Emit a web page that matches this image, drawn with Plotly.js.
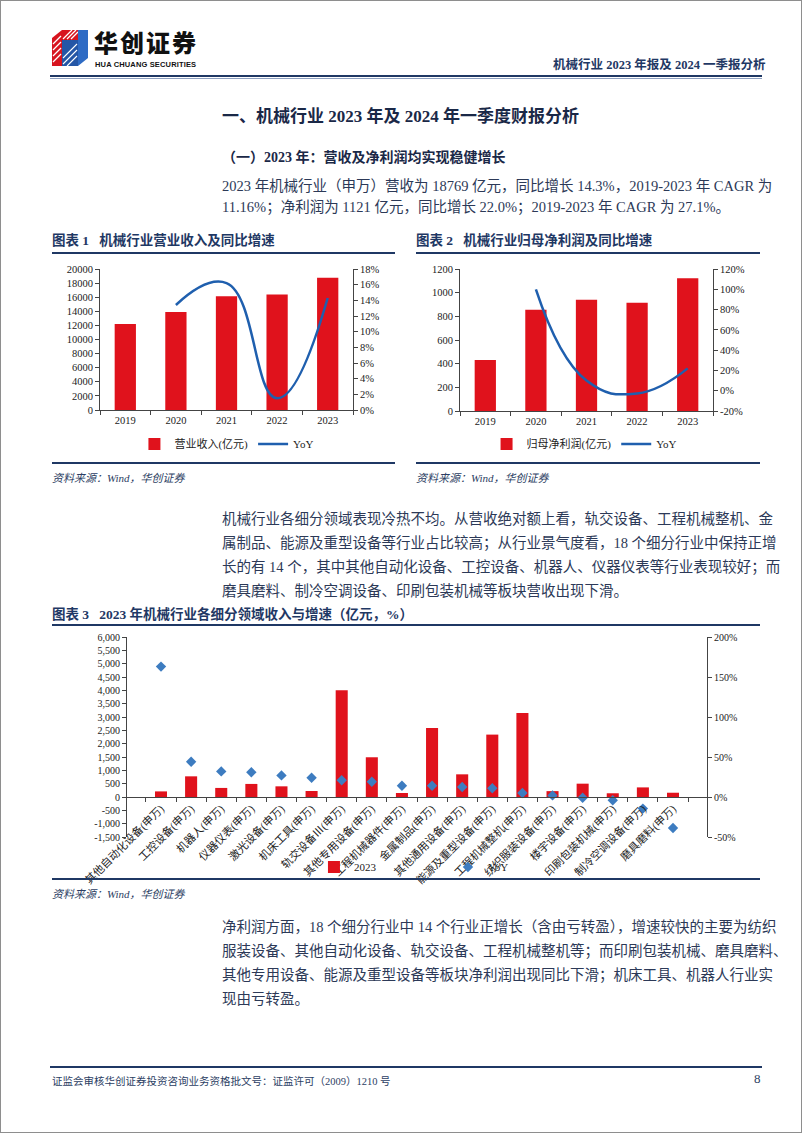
<!DOCTYPE html>
<html><head><meta charset="utf-8">
<script src="https://cdn.plot.ly/plotly-3.0.1.min.js"></script>
<style>
html,body{margin:0;padding:0}
body{width:802px;height:1133px;position:relative;background:#fff;font-family:"Liberation Serif","Noto Sans CJK SC",serif;overflow:hidden}
.frame{position:absolute;left:0;top:0;width:800px;height:1131px;border:1px solid #8e8e8e}
.abs{position:absolute;white-space:nowrap}
.line{position:absolute;height:2px;background:#1f3864}
.para{position:absolute;left:222px;width:538px;font-size:14.5px;color:#2c3957;text-align:justify;text-align-last:justify;white-space:nowrap}
.para.last{text-align-last:left}
.ctitle{position:absolute;font-size:13.5px;font-weight:bold;color:#1f3864;white-space:nowrap}
.src{position:absolute;font-size:11px;font-style:italic;color:#2c3e63;white-space:nowrap}
.chart{position:absolute}
</style></head>
<body>
<div class="frame"></div>

<!-- header logo -->
<svg class="abs" style="left:50px;top:28px" width="42" height="40" viewBox="0 0 42 40">
  <polygon points="2,10 12,2 12,38 2,38" fill="#d7141f"/>
  <polygon points="12,2 28,2 28,12 12,12" fill="#d7141f"/>
  <g stroke="#fff" stroke-width="1.3">
    <line x1="13" y1="11" x2="22" y2="2"/><line x1="17" y1="11" x2="26" y2="2"/><line x1="21" y1="11" x2="28" y2="4"/>
    <line x1="3" y1="16" x2="11" y2="8"/><line x1="3" y1="22" x2="11" y2="14"/><line x1="3" y1="28" x2="11" y2="20"/><line x1="3" y1="34" x2="11" y2="26"/>
  </g>
  <polygon points="12,12 28,12 28,38 12,38" fill="#2456a6"/>
  <polygon points="28,2 38,2 38,30 28,38" fill="#2e6bc4"/>
  <g stroke="#fff" stroke-width="1.1">
    <line x1="13" y1="30" x2="27" y2="16"/><line x1="13" y1="36" x2="27" y2="22"/><line x1="17" y1="38" x2="27" y2="28"/>
  </g>
</svg>
<div class="abs" style="left:94px;top:30px;font-size:24px;font-weight:900;color:#111;font-family:'Noto Sans CJK SC',sans-serif;line-height:24px;height:24px;letter-spacing:2px">华创证券</div>
<div class="abs" style="left:95px;top:61px;font-size:7.5px;line-height:8px;font-weight:bold;color:#111;font-family:'Liberation Sans',sans-serif;letter-spacing:0.15px">HUA CHUANG SECURITIES</div>
<div class="abs" style="left:553px;top:54px;font-size:12.5px;font-weight:bold;color:#1f3864">机械行业 2023 年报及 2024 一季报分析</div>
<div class="line" style="left:50px;top:75px;width:712px;height:2px"></div>
<div class="line" style="left:50px;top:78px;width:712px;height:1px;background:#8ea0c0"></div>

<!-- headings -->
<div class="abs" style="left:222px;top:102px;font-size:17px;font-weight:bold;color:#1a2847">一、机械行业 2023 年及 2024 年一季度财报分析</div>
<div class="abs" style="left:222px;top:146px;font-size:14px;font-weight:bold;color:#1a2847">（一）2023 年：营收及净利润均实现稳健增长</div>

<div class="para" style="top:174px">2023 年机械行业（申万）营收为 18769 亿元，同比增长 14.3%，2019-2023 年 CAGR 为</div>
<div class="para last" style="top:195px">11.16%；净利润为 1121 亿元，同比增长 22.0%；2019-2023 年 CAGR 为 27.1%。</div>

<div class="ctitle" style="left:52px;top:229px">图表 1&nbsp;&nbsp;&nbsp;机械行业营业收入及同比增速</div>
<div class="ctitle" style="left:416px;top:229px">图表 2&nbsp;&nbsp;&nbsp;机械行业归母净利润及同比增速</div>
<div class="line" style="left:52px;top:252px;width:343px"></div>
<div class="line" style="left:416px;top:252px;width:344px"></div>

<div id="c1" class="chart" style="left:52px;top:255px;width:343px;height:205px"></div>
<div id="c2" class="chart" style="left:416px;top:255px;width:344px;height:205px"></div>

<div class="line" style="left:52px;top:462px;width:343px"></div>
<div class="line" style="left:416px;top:462px;width:344px"></div>
<div class="src" style="left:52px;top:469px">资料来源：Wind，华创证券</div>
<div class="src" style="left:416px;top:469px">资料来源：Wind，华创证券</div>

<div class="para" style="top:507px">机械行业各细分领域表现冷热不均。从营收绝对额上看，轨交设备、工程机械整机、金</div>
<div class="para" style="top:531px">属制品、能源及重型设备等行业占比较高；从行业景气度看，18 个细分行业中保持正增</div>
<div class="para" style="top:555px">长的有 14 个，其中其他自动化设备、工控设备、机器人、仪器仪表等行业表现较好；而</div>
<div class="para last" style="top:579px">磨具磨料、制冷空调设备、印刷包装机械等板块营收出现下滑。</div>

<div class="ctitle" style="left:52px;top:603px">图表 3&nbsp;&nbsp;&nbsp;2023 年机械行业各细分领域收入与增速（亿元，%）</div>
<div class="line" style="left:52px;top:624px;width:708px"></div>

<div id="c3" class="chart" style="left:52px;top:627px;width:708px;height:268px"></div>

<div class="line" style="left:52px;top:878px;width:708px"></div>
<div class="src" style="left:52px;top:885px">资料来源：Wind，华创证券</div>

<div class="para" style="top:915px">净利润方面，18 个细分行业中 14 个行业正增长（含由亏转盈），增速较快的主要为纺织</div>
<div class="para" style="top:939px">服装设备、其他自动化设备、轨交设备、工程机械整机等；而印刷包装机械、磨具磨料、</div>
<div class="para" style="top:963px">其他专用设备、能源及重型设备等板块净利润出现同比下滑；机床工具、机器人行业实</div>
<div class="para last" style="top:987px">现由亏转盈。</div>

<div class="line" style="left:50px;top:1066px;width:712px;height:2px"></div>
<div class="abs" style="left:52px;top:1073px;font-size:10.5px;color:#2c3e63">证监会审核华创证券投资咨询业务资格批文号：证监许可（2009）1210 号</div>
<div class="abs" style="left:754px;top:1071px;font-size:13px;color:#2c3e63">8</div>

<script>
// ---------- data ----------
const years = ['2019', '2020', '2021', '2022', '2023'];
const revenue = [12200, 13900, 16150, 16400, 18769];
const revenueYoY = [null, 13.4, 16.2, 1.5, 14.3];
const netProfit = [430, 855, 940, 915, 1121];
const netProfitYoY = [null, 100, 10, -2.7, 22];

const segCategories = ['其他自动化设备(申万)', '工控设备(申万)', '机器人(申万)', '仪器仪表(申万)', '激光设备(申万)',
  '机床工具(申万)', '轨交设备Ⅲ(申万)', '其他专用设备(申万)', '工程机械器件(申万)', '金属制品(申万)',
  '其他通用设备(申万)', '能源及重型设备(申万)', '工程机械整机(申万)', '纺织服装设备(申万)', '楼宇设备(申万)',
  '印刷包装机械(申万)', '制冷空调设备(申万)', '磨具磨料(申万)'];
const segRevenue = [210, 775, 340, 490, 400, 225, 4000, 1490, 150, 2590, 850, 2340, 3150, 220, 500, 140, 360, 160];
const segYoY = [163, 44, 32, 31, 27, 24, 21, 19, 14, 14, 12.5, 11, 5, 2, -1, -4, -14.5, -38.7];

const c1LeftTicks = [0, 2000, 4000, 6000, 8000, 10000, 12000, 14000, 16000, 18000, 20000];
const c1RightTicks = [0, 2, 4, 6, 8, 10, 12, 14, 16, 18];
const c2LeftTicks = [0, 200, 400, 600, 800, 1000, 1200];
const c2RightTicks = [-20, 0, 20, 40, 60, 80, 100, 120];
const c3LeftTicks = [-1500, -1000, -500, 0, 500, 1000, 1500, 2000, 2500, 3000, 3500, 4000, 4500, 5000, 5500, 6000];
const c3RightTicks = [-50, 0, 50, 100, 150, 200];

// ---------- helpers ----------
const RED = '#e0121c';
const BLUE = '#1f5fae';
const TXT = '#222';
const FONT = 'Liberation Serif, Noto Sans CJK SC, serif';
const pct = v => String(v) + '%';
const commas = v => (v < 0 ? '-' : '') + Math.abs(v).toLocaleString('en-US');

function axisBase() {
  return {showgrid: false, zeroline: false, showline: true, linecolor: '#444', linewidth: 1,
    ticks: 'outside', ticklen: 4, tickcolor: '#444', tickfont: {family: FONT, size: 10.5, color: TXT}};
}
const cfg = {staticPlot: true, displayModeBar: false};

// ---------- chart 1 ----------
Plotly.newPlot('c1', [
  {type: 'bar', x: years, y: revenue, name: '营业收入(亿元)', marker: {color: RED}},
  {type: 'scatter', mode: 'lines', x: years, y: revenueYoY, yaxis: 'y2', name: 'YoY',
   line: {color: BLUE, width: 2.5, shape: 'spline', smoothing: 1.3}}
], {
  width: 343, height: 205, margin: {l: 48, r: 42, t: 14, b: 50},
  paper_bgcolor: '#fff', plot_bgcolor: '#fff', bargap: 0.58,
  font: {family: FONT, size: 11, color: TXT},
  xaxis: Object.assign(axisBase(), {type: 'category', tickson: 'boundaries'}),
  yaxis: Object.assign(axisBase(), {range: [0, 20000], tickvals: c1LeftTicks, ticktext: c1LeftTicks.map(String)}),
  yaxis2: Object.assign(axisBase(), {overlaying: 'y', side: 'right', range: [0, 18],
    tickvals: c1RightTicks, ticktext: c1RightTicks.map(pct)}),
  showlegend: true,
  legend: {orientation: 'h', xref: 'container', yref: 'container', x: 0.51, xanchor: 'center', y: 0.078, yanchor: 'middle',
    font: {family: FONT, size: 11, color: TXT}, bgcolor: 'rgba(0,0,0,0)'}
}, cfg);

// ---------- chart 2 ----------
Plotly.newPlot('c2', [
  {type: 'bar', x: years, y: netProfit, name: '归母净利润(亿元)', marker: {color: RED}},
  {type: 'scatter', mode: 'lines', x: years, y: netProfitYoY, yaxis: 'y2', name: 'YoY',
   line: {color: BLUE, width: 2.5, shape: 'spline', smoothing: 1.3}}
], {
  width: 344, height: 205, margin: {l: 44, r: 47, t: 14, b: 49},
  paper_bgcolor: '#fff', plot_bgcolor: '#fff', bargap: 0.58,
  font: {family: FONT, size: 11, color: TXT},
  xaxis: Object.assign(axisBase(), {type: 'category', tickson: 'boundaries'}),
  yaxis: Object.assign(axisBase(), {range: [0, 1200], tickvals: c2LeftTicks, ticktext: c2LeftTicks.map(String)}),
  yaxis2: Object.assign(axisBase(), {overlaying: 'y', side: 'right', range: [-20, 120],
    tickvals: c2RightTicks, ticktext: c2RightTicks.map(pct)}),
  showlegend: true,
  legend: {orientation: 'h', xref: 'container', yref: 'container', x: 0.49, xanchor: 'center', y: 0.078, yanchor: 'middle',
    font: {family: FONT, size: 11, color: TXT}, bgcolor: 'rgba(0,0,0,0)'}
}, cfg);

// ---------- chart 3 ----------
// div is 268 tall (plot area 637-837 on the page); legend centred at page y 866
Plotly.newPlot('c3', [
  {type: 'bar', x: segCategories, y: segRevenue, name: '2023', marker: {color: RED}},
  {type: 'scatter', mode: 'markers', x: segCategories, y: segYoY, yaxis: 'y2', name: 'YoY',
   marker: {symbol: 'diamond', size: 8, color: '#3d7cc0'}}
], {
  width: 708, height: 268, margin: {l: 75, r: 53, t: 10, b: 58},
  paper_bgcolor: 'rgba(0,0,0,0)', plot_bgcolor: 'rgba(0,0,0,0)', bargap: 0.6,
  font: {family: FONT, size: 11, color: TXT},
  xaxis: Object.assign(axisBase(), {type: 'category', tickson: 'boundaries', anchor: 'free', position: 0.2,
    tickangle: -45, ticklen: 4, tickfont: {family: FONT, size: 11, color: TXT}}),
  yaxis: Object.assign(axisBase(), {range: [-1500, 6000], tickvals: c3LeftTicks, ticktext: c3LeftTicks.map(commas),
    tickfont: {family: FONT, size: 10, color: TXT}}),
  yaxis2: Object.assign(axisBase(), {overlaying: 'y', side: 'right', range: [-50, 200],
    tickvals: c3RightTicks, ticktext: c3RightTicks.map(pct), tickfont: {family: FONT, size: 10, color: TXT}}),
  showlegend: true,
  legend: {orientation: 'h', xref: 'container', yref: 'container', x: 0.37, xanchor: 'left', y: 0.1045, yanchor: 'middle',
    font: {family: FONT, size: 11, color: TXT}, bgcolor: 'rgba(0,0,0,0)',
    entrywidth: 89, entrywidthmode: 'pixels'}
}, cfg);
</script>
</body></html>
